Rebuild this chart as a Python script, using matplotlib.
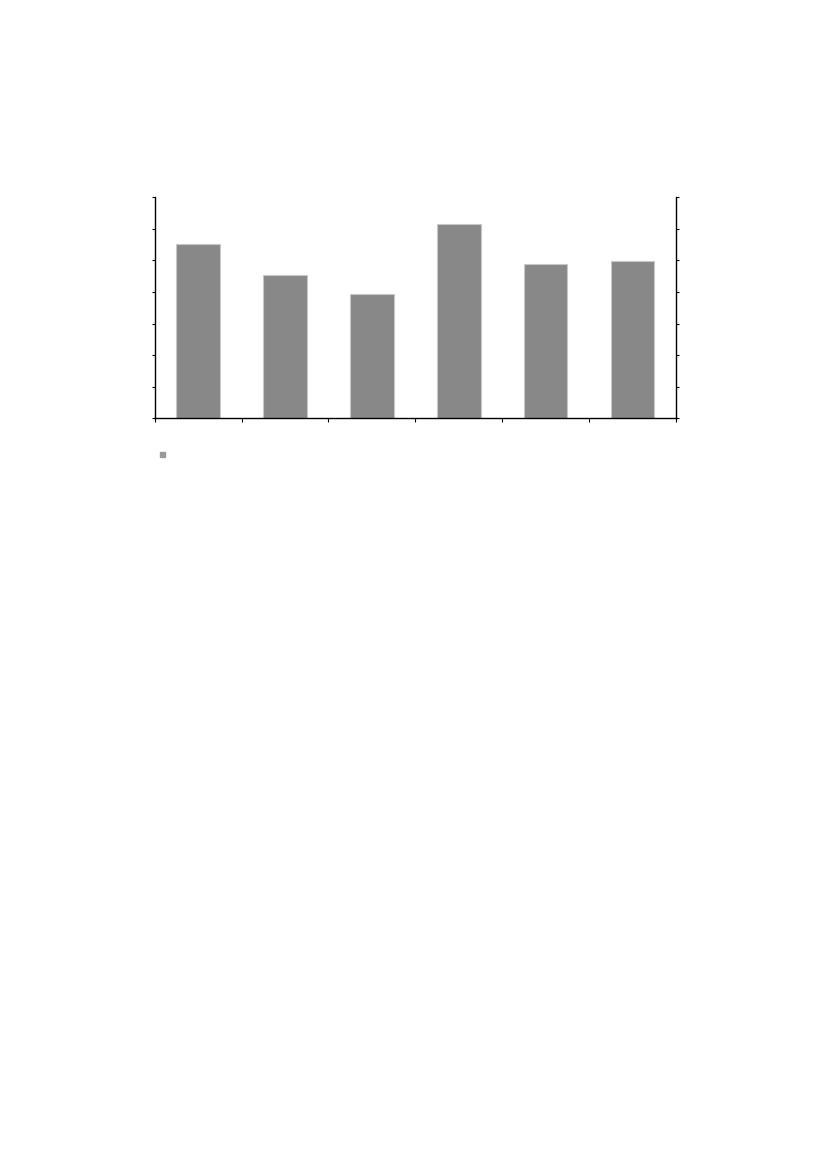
import matplotlib
matplotlib.use("Agg")
import matplotlib.pyplot as plt
import numpy as np

categories = ["", "", "", "", "", ""]
values = [5.51, 4.53, 3.93, 6.15, 4.90, 4.97]
y_max = 7

fig = plt.figure(figsize=(8.27, 11.69), dpi=100)
ax = fig.add_axes([0.1871, 0.6422, 0.6303, 0.1890])

x = np.arange(len(values))
ax.bar(x, values, width=0.5, color="#888888", edgecolor="#c8c8c8", linewidth=0.8)
ax.set_xlim(-0.5, len(values) - 0.5)
ax.set_ylim(0, y_max)

ax.set_xticks(np.arange(-0.5, len(values), 1.0))
ax.set_xticklabels([])
ax.set_yticks(np.arange(0, y_max + 1, 1))
ax.set_yticklabels([])
ax.tick_params(axis="x", direction="out", length=3, width=0.8, color="black")
ax.tick_params(axis="y", direction="out", length=2.5, width=0.8, color="black",
               left=True, right=True)

for side in ["left", "right", "bottom"]:
    ax.spines[side].set_linewidth(1.0)
    ax.spines[side].set_color("black")
ax.spines["top"].set_visible(False)

# legend marker (no text)
fig.patches.append(plt.Rectangle((159.7 / 827, 1 - 456.7 / 1169), 4.8 / 827, 5 / 1169,
                                 transform=fig.transFigure, color="#999999", figure=fig))

fig.savefig("out.png", dpi=100)
